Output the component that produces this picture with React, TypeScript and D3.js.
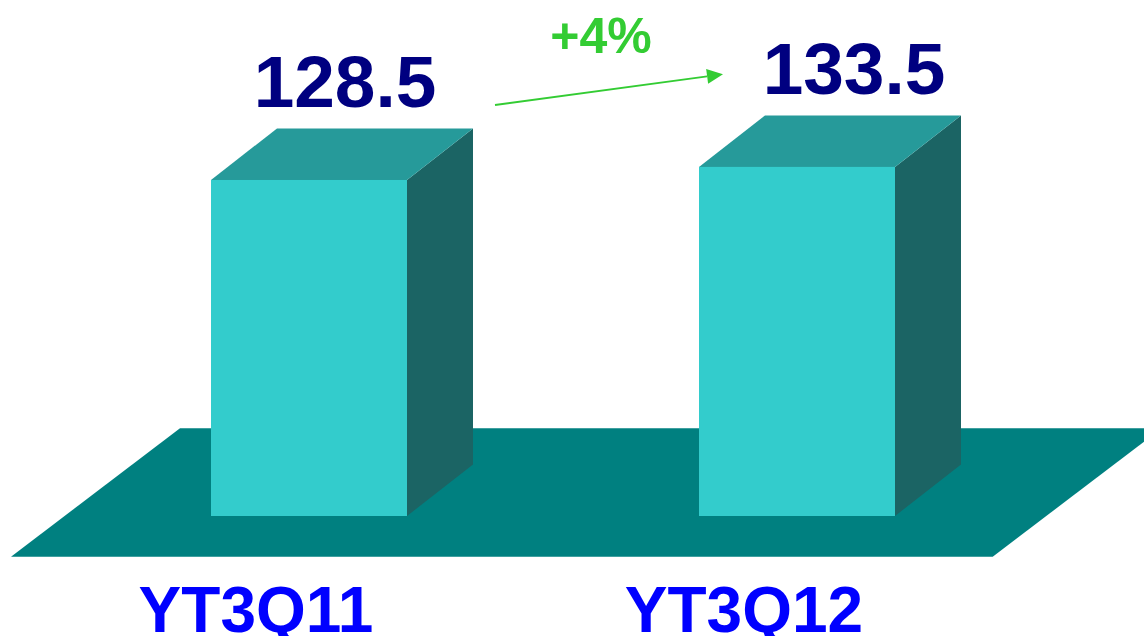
import React from "react";
import * as d3 from "d3";

const categories: string[] = ["YT3Q11", "YT3Q12"];
const values: number[] = [128.5, 133.5];
const valueLabels: string[] = ["128.5", "133.5"];
const changeLabel: string = "+4%";

const W = 1144;
const H = 636;

export default function App() {
  const x = d3.scalePoint<string>().domain(categories).range([309, 797]);
  const y = d3.scaleLinear().domain([0, 131]).range([516, 516 - 131 * 2.615]);
  const barW = 196;
  const dx = 66;
  const dy = 51.5;
  const font = "'Liberation Sans', Arial, sans-serif";

  const floorTop = 428.3;
  const floorBottom = 556.7;
  const floorPts: [number, number][] = [
    [11, floorBottom],
    [992.7, floorBottom],
    [1161.7, floorTop],
    [180, floorTop],
  ];
  const line = d3.line();

  const a0: [number, number] = [495, 105];
  const a1: [number, number] = [723, 74.3];
  const ang = Math.atan2(a1[1] - a0[1], a1[0] - a0[0]);
  const headLen = 16;
  const headHalf = 7.5;
  const bx = a1[0] - headLen * Math.cos(ang);
  const by = a1[1] - headLen * Math.sin(ang);
  const px = -Math.sin(ang) * headHalf;
  const py = Math.cos(ang) * headHalf;
  const head: [number, number][] = [a1, [bx + px, by + py], [bx - px, by - py]];

  return (
    <svg
      width={W}
      height={H}
      style={{ position: "absolute", left: 0, top: 0, background: "#fff" }}
    >
      <path d={line(floorPts)! + "Z"} fill="#008080" />
      {categories.map((c, i) => {
        const cx = x(c)!;
        const x0 = cx - barW / 2;
        const x1 = cx + barW / 2;
        const yt = y(values[i]);
        const yb = y(0);
        const side: [number, number][] = [
          [x1, yt],
          [x1 + dx, yt - dy],
          [x1 + dx, yb - dy],
          [x1, yb],
        ];
        const top: [number, number][] = [
          [x0, yt],
          [x0 + dx, yt - dy],
          [x1 + dx, yt - dy],
          [x1, yt],
        ];
        return (
          <g key={c}>
            <path d={line(side)! + "Z"} fill="#1B6464" />
            <path d={line(top)! + "Z"} fill="#269A9A" />
            <rect x={x0} y={yt} width={barW} height={yb - yt} fill="#33CCCC" />
            <text
              x={cx + dx / 2 + 3 + i * 21}
              y={yt - dy - 21}
              textAnchor="middle"
              fontFamily={font}
              fontWeight="bold"
              fontSize={73}
              fill="#000080"
            >
              {valueLabels[i]}
            </text>
            <text
              x={cx - 53}
              y={632}
              textAnchor="middle"
              fontFamily={font}
              fontWeight="bold"
              fontSize={64}
              fill="#0000FF"
            >
              {c}
            </text>
          </g>
        );
      })}
      <line
        x1={a0[0]}
        y1={a0[1]}
        x2={bx}
        y2={by}
        stroke="#33CC33"
        strokeWidth={1.8}
      />
      <path d={line(head)! + "Z"} fill="#33CC33" />
      <text
        x={601}
        y={53.3}
        textAnchor="middle"
        fontFamily={font}
        fontWeight="bold"
        fontSize={50}
        fill="#33CC33"
      >
        {changeLabel}
      </text>
    </svg>
  );
}
